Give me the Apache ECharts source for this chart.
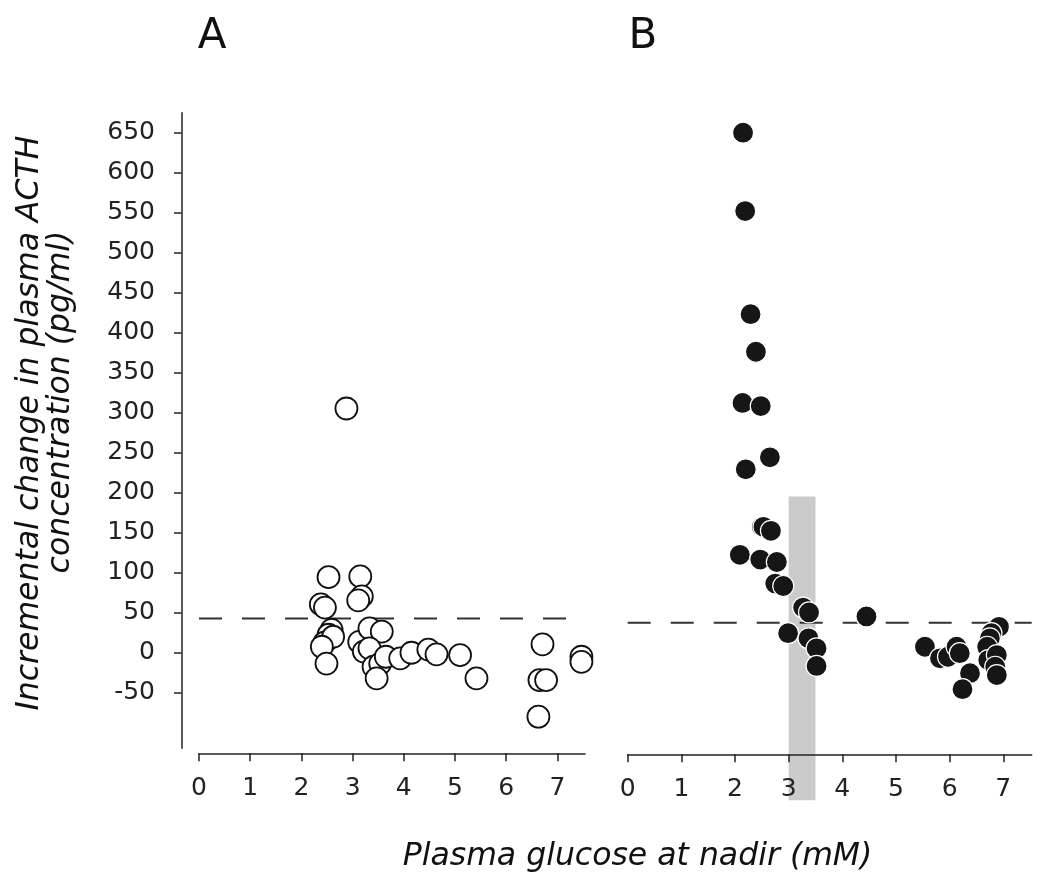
<!DOCTYPE html>
<html>
<head>
<meta charset="utf-8">
<script src="https://cdn.jsdelivr.net/npm/echarts@6/dist/echarts.min.js"></script>
<style>
  html, body { margin: 0; padding: 0; background: #ffffff; }
  #chart { width: 1050px; height: 894px; }
</style>
</head>
<body>
<div id="chart"></div>
<script>
// ---- data ----
const xTicks = [0, 1, 2, 3, 4, 5, 6, 7];
const yTicks = [-50, 0, 50, 100, 150, 200, 250, 300, 350, 400, 450, 500, 550, 600, 650];

// Panel A: open circles [glucose nadir (mM), incremental ACTH (pg/ml)]
const panelA = [
  [2.88, 305], [2.53, 94], [3.15, 95], [3.18, 70], [3.11, 65],
  [2.38, 60], [2.46, 56], [2.59, 28], [2.53, 22], [2.45, 12], [2.62, 19.5],
  [2.40, 7], [2.49, -14], [3.13, 13], [3.33, 30], [3.57, 26],
  [3.22, 1], [3.33, 5], [3.41, -18], [3.54, -14], [3.65, -5.5],
  [3.47, -32.5], [3.93, -7.5], [4.15, -0.5], [4.48, 3.5], [4.64, -2.5],
  [5.10, -3.4], [5.42, -32.5], [6.71, 10], [6.65, -34.7], [6.78, -34.7],
  [6.63, -80.5], [7.47, -5.5], [7.47, -11.8]
];

// Panel B: filled circles
const panelB = [
  [2.15, 650], [2.19, 552], [2.29, 423], [2.39, 376], [2.14, 312], [2.48, 308],
  [2.20, 229], [2.65, 244], [2.50, 157], [2.53, 157], [2.67, 152],
  [2.09, 122], [2.47, 116], [2.78, 113], [2.75, 86], [2.90, 83],
  [3.27, 56], [3.38, 50], [2.99, 24], [3.37, 17.5], [3.52, 5], [3.52, -17],
  [4.45, 45], [5.54, 7], [5.82, -7.5], [5.97, -5.5], [6.13, 7], [6.19, -1],
  [6.38, -26], [6.24, -46], [6.92, 32], [6.78, 24], [6.75, 17.5], [6.70, 7],
  [6.72, -9.6], [6.88, -3.4], [6.85, -18], [6.88, -28.4]
];

// Reference (dashed) lines: [x start, x end, y]
const refLineA = [0, 7.21, 42.5];
const refLineB = [0, 7.53, 37];
// Shaded band in B: [x from, x to, y from, y to]
const bandB = [3.0, 3.5, -185, 195];

// ---- chart ----
const FONT = '"DejaVu Sans", "Liberation Sans", sans-serif';
const INK = '#222222';

const chart = echarts.init(document.getElementById('chart'), null, { renderer: 'canvas' });

function xAxisCfg(gi, max, off) {
  return {
    type: 'value', gridIndex: gi, min: 0, max: max, interval: 1, offset: off, z: 5,
    axisLine: { show: true, onZero: false, lineStyle: { color: INK, width: 1.5 } },
    axisTick: { show: true, length: 8, customValues: xTicks, lineStyle: { color: INK, width: 1.5 } },
    axisLabel: { customValues: xTicks, fontSize: 25, fontFamily: FONT, color: INK, margin: 23 },
    splitLine: { show: false }
  };
}

const option = {
  animation: false,
  backgroundColor: '#ffffff',
  grid: [
    { left: 199, top: 112.7, width: 386, height: 635.6 },
    { left: 627.7, top: 112.7, width: 404, height: 635.6 }
  ],
  xAxis: [ xAxisCfg(0, 7.54, 5), xAxisCfg(1, 7.53, 6) ],
  yAxis: [
    {
      type: 'value', gridIndex: 0, min: -120, max: 675, offset: 17.5,
      axisLine: { show: true, onZero: false, lineStyle: { color: INK, width: 1.5 } },
      axisTick: { show: true, length: 7.5, customValues: yTicks, lineStyle: { color: INK, width: 1.5 } },
      axisLabel: { customValues: yTicks, fontSize: 25, fontFamily: FONT, color: INK, margin: 26.5 },
      splitLine: { show: false }
    },
    {
      type: 'value', gridIndex: 1, min: -120, max: 675, show: false,
      splitLine: { show: false }
    }
  ],
  graphic: [
    { type: 'text', x: 212, y: 37, style: { text: 'A', font: '42px ' + FONT, fill: '#111', align: 'center', verticalAlign: 'middle' } },
    { type: 'text', x: 643, y: 37, style: { text: 'B', font: '42px ' + FONT, fill: '#111', align: 'center', verticalAlign: 'middle' } },
    { type: 'text', x: 637.5, y: 857, style: { text: 'Plasma glucose at nadir (mM)', font: 'italic 31.5px ' + FONT, fill: '#111', align: 'center', verticalAlign: 'middle' } },
    { type: 'text', x: 30, y: 423, rotation: Math.PI / 2, style: { text: 'Incremental change in plasma ACTH', font: 'italic 31.5px ' + FONT, fill: '#111', align: 'center', verticalAlign: 'middle' } },
    { type: 'text', x: 61, y: 402, rotation: Math.PI / 2, style: { text: 'concentration (pg/ml)', font: 'italic 31.5px ' + FONT, fill: '#111', align: 'center', verticalAlign: 'middle' } }
  ],
  series: [
    {
      type: 'custom', xAxisIndex: 1, yAxisIndex: 1, z: 1, clip: false, silent: true,
      data: [bandB],
      renderItem: function (params, api) {
        const p0 = api.coord([api.value(0), api.value(3)]);
        const p1 = api.coord([api.value(1), api.value(2)]);
        return {
          type: 'rect',
          shape: { x: p0[0], y: p0[1], width: p1[0] - p0[0], height: p1[1] - p0[1] },
          style: { fill: '#cbcbcb' }
        };
      }
    },
    {
      type: 'line', xAxisIndex: 0, yAxisIndex: 0, z: 2, symbol: 'none', silent: true,
      data: [[refLineA[0], refLineA[2]], [refLineA[1], refLineA[2]]],
      lineStyle: { color: '#333', width: 2, type: [23, 20] }
    },
    {
      type: 'line', xAxisIndex: 1, yAxisIndex: 1, z: 2, symbol: 'none', silent: true,
      data: [[refLineB[0], refLineB[2]], [refLineB[1], refLineB[2]]],
      lineStyle: { color: '#333', width: 2, type: [23, 20] }
    },
    {
      type: 'scatter', xAxisIndex: 0, yAxisIndex: 0, z: 10,
      data: panelA, symbol: 'circle', symbolSize: 22,
      itemStyle: { color: '#ffffff', borderColor: '#111111', borderWidth: 1.8, opacity: 1 }
    },
    {
      type: 'scatter', xAxisIndex: 1, yAxisIndex: 1, z: 10,
      data: panelB, symbol: 'circle', symbolSize: 21,
      itemStyle: { color: '#161616', borderColor: '#ffffff', borderWidth: 1.2, opacity: 1 }
    }
  ]
};

chart.setOption(option);
</script>
</body>
</html>
